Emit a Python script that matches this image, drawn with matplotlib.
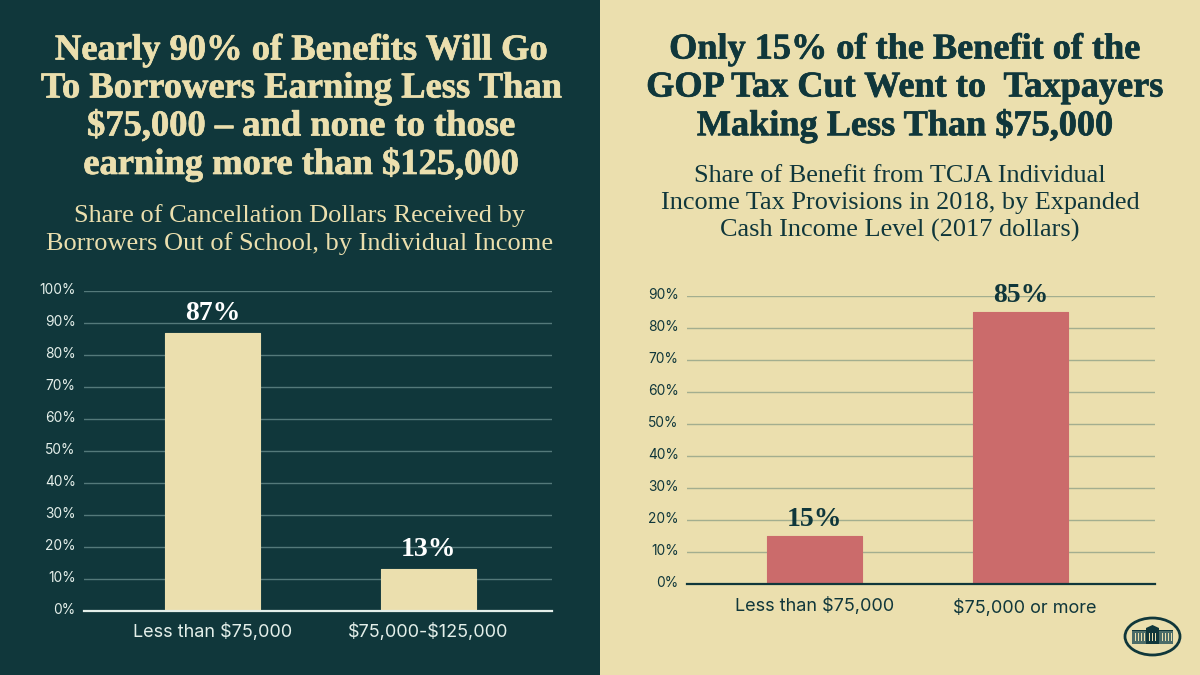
import matplotlib
matplotlib.use("Agg")
import matplotlib.pyplot as plt
from matplotlib.patches import Rectangle, Ellipse, Polygon
from matplotlib.transforms import ScaledTranslation
import matplotlib.patheffects as pe

W, H = 1200, 675
DARK = "#10373B"
CREAM = "#EBDFAE"
RED = "#CB6B6B"

left_cats = [r"Less than \$75,000", r"\$75,000-\$125,000"]
left_vals = [87, 13]
left_labels = ["87%", "13%"]
left_ticks = list(range(0, 101, 10))
right_cats = [r"Less than \$75,000", r"\$75,000 or more"]
right_vals = [15, 85]
right_labels = ["15%", "85%"]
right_ticks = list(range(0, 91, 10))

left_title = ["Nearly 90% of Benefits Will Go", "To Borrowers Earning Less Than",
              r"\$75,000 – and none to those", r"earning more than \$125,000"]
left_sub = ["Share of Cancellation Dollars Received by", "Borrowers Out of School, by Individual Income"]
right_title = ["Only 15% of the Benefit of the", "GOP Tax Cut Went to  Taxpayers", r"Making Less Than \$75,000"]
right_sub = ["Share of Benefit from TCJA Individual", "Income Tax Provisions in 2018, by Expanded", "Cash Income Level (2017 dollars)"]

SERIF = "Liberation Serif"
SANS = "Inter"

fig = plt.figure(figsize=(12, 6.75), dpi=100)
fig.patch.set_facecolor(CREAM)
fig.add_artist(Rectangle((0, 0), 600 / W, 1, transform=fig.transFigure, fc=DARK, ec="none", zorder=0))


def tx(x, y, s, heavy=False, **kw):
    t = fig.text(x / W, 1 - y / H, s, ha="center", va="center", **kw)
    if heavy:
        t.set_path_effects([pe.withStroke(linewidth=0.5, foreground=kw["color"])])


for s, y in zip(left_title, [50, 88, 126, 164]):
    tx(301, y, s, heavy=True, color=CREAM, family=SERIF, weight="bold", fontsize=26.3)
for s, y in zip(left_sub, [216, 244]):
    tx(300, y, s, color=CREAM, family=SERIF, fontsize=19)
for s, y in zip(right_title, [50, 88, 126]):
    tx(905, y, s, heavy=True, color=DARK, family=SERIF, weight="bold", fontsize=26.1)
for s, y in zip(right_sub, [176, 203, 230]):
    tx(900, y, s, color=DARK, family=SERIF, fontsize=18.9)


def panel(x0, x1, y_top, y0, ymax, cats, vals, labels, ticks, xlim, barc, gridc, basec, tickc, barw, labc,
          lab_offset, lab_dx, value_offset):
    ax = fig.add_axes([x0 / W, 1 - y0 / H, (x1 - x0) / W, (y0 - y_top) / H])
    ax.patch.set_alpha(0)
    ax.set_xlim(*xlim)
    ax.set_ylim(0, ymax)
    ax.set_yticks(ticks)
    ax.set_yticklabels([f"{t}%" for t in ticks], family=SANS, fontsize=9.9, color=tickc)
    ax.set_xticks(range(len(cats)))
    ax.set_xticklabels(cats, family=SANS, fontsize=13, color=tickc)
    ax.tick_params(axis="y", length=0, pad=6)
    ax.tick_params(axis="x", length=0)
    for lab in ax.get_yticklabels():
        lab.set_transform(lab.get_transform() + ScaledTranslation(0, 2.5 / 100, fig.dpi_scale_trans))
    for tick, pad, dx in zip(ax.xaxis.get_major_ticks(), lab_offset, lab_dx):
        tick.set_pad(pad)
        lab = tick.label1
        lab.set_transform(lab.get_transform() + ScaledTranslation(dx / 100, 0, fig.dpi_scale_trans))
    for s in ["top", "left", "right"]:
        ax.spines[s].set_visible(False)
    ax.spines["bottom"].set_color(basec)
    ax.spines["bottom"].set_linewidth(1.6)
    ax.spines["bottom"].set_zorder(4)
    ax.grid(axis="y", color=gridc, lw=1.0, zorder=1)
    ax.set_axisbelow(True)
    ax.get_ygridlines()[0].set_visible(False)
    ax.bar(range(len(cats)), vals, width=barw, color=barc, edgecolor=barc, lw=0.8, joinstyle="round", zorder=3)
    for i, (v, l) in enumerate(zip(vals, labels)):
        ax.annotate(l, (i, v), xytext=(0, value_offset), textcoords="offset points", ha="center", va="bottom",
                    family=SERIF, weight="bold", fontsize=20, color=labc, zorder=5)
    return ax


panel(84, 552, 291, 610.5, 100, left_cats, left_vals, left_labels, left_ticks,
      (-128.5 / 216, 1 + 123.5 / 216), CREAM, "#54797A", "#E4EFEA", "#E4EFEA", 95 / 216, "#FFFFFF",
      [9, 9], [0, 0], 5)
panel(687, 1155, 296, 584, 90, right_cats, right_vals, right_labels, right_ticks,
      (-127.5 / 206, 1 + 134.5 / 206), RED, "#A3AE8F", DARK, DARK, 95 / 206, DARK,
      [9, 11], [0, 4], 3)

# White House badge
ov = fig.add_axes([0, 0, 1, 1])
ov.set_xlim(0, W)
ov.set_ylim(H, 0)
ov.axis("off")
ov.patch.set_alpha(0)
ov.add_patch(Ellipse((1152.5, 636.5), 55, 37, fc="none", ec=DARK, lw=2))
ov.add_patch(Rectangle((1132, 631), 41, 13, fc="#4C6C68", ec="none"))
ov.add_patch(Rectangle((1132, 629.5), 41, 1.5, fc=DARK, ec="none"))
ov.add_patch(Rectangle((1146, 628), 13, 16, fc=DARK, ec="none"))
ov.add_patch(Polygon([(1146, 628), (1152.5, 625), (1159, 628)], fc=DARK, ec="none"))
for x in [1135, 1138, 1141, 1144, 1149, 1152, 1155, 1162, 1165, 1168, 1171]:
    ov.add_patch(Rectangle((x, 633), 1.1, 8, fc=CREAM, ec="none"))

fig.savefig("out.png", dpi=100, facecolor=fig.get_facecolor())
